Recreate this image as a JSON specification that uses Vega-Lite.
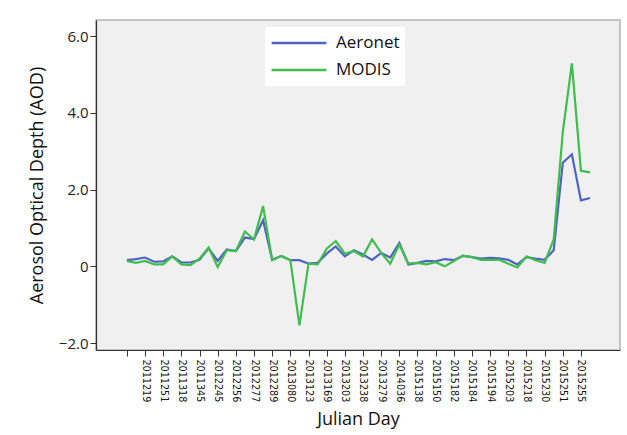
{
  "$schema": "https://vega.github.io/schema/vega-lite/v6.json",
  "width": 524,
  "height": 330,
  "autosize": {"type": "none"},
  "padding": {"left": 96, "top": 20, "right": 7, "bottom": 85},
  "background": "white",
  "config": {
    "view": {"fill": "#f0f0f0", "stroke": "#b4b4b4", "strokeWidth": 1.5},
    "axis": {"domainColor": "#333333", "tickColor": "#333333", "labelColor": "#222222", "titleColor": "#111111", "grid": false, "titleFontWeight": "normal", "domainWidth": 1.2}
  },
  "data": {
    "values": [
      {"i": 0, "Aeronet": 0.16, "MODIS": 0.14},
      {"i": 1, "Aeronet": 0.19, "MODIS": 0.09},
      {"i": 2, "Aeronet": 0.23, "MODIS": 0.14},
      {"i": 3, "Aeronet": 0.12, "MODIS": 0.05},
      {"i": 4, "Aeronet": 0.13, "MODIS": 0.05},
      {"i": 5, "Aeronet": 0.26, "MODIS": 0.26},
      {"i": 6, "Aeronet": 0.10, "MODIS": 0.05},
      {"i": 7, "Aeronet": 0.10, "MODIS": 0.03},
      {"i": 8, "Aeronet": 0.17, "MODIS": 0.20},
      {"i": 9, "Aeronet": 0.47, "MODIS": 0.49},
      {"i": 10, "Aeronet": 0.14, "MODIS": -0.02},
      {"i": 11, "Aeronet": 0.44, "MODIS": 0.42},
      {"i": 12, "Aeronet": 0.40, "MODIS": 0.40},
      {"i": 13, "Aeronet": 0.75, "MODIS": 0.91},
      {"i": 14, "Aeronet": 0.71, "MODIS": 0.70},
      {"i": 15, "Aeronet": 1.20, "MODIS": 1.57},
      {"i": 16, "Aeronet": 0.17, "MODIS": 0.16},
      {"i": 17, "Aeronet": 0.27, "MODIS": 0.27},
      {"i": 18, "Aeronet": 0.16, "MODIS": 0.16},
      {"i": 19, "Aeronet": 0.16, "MODIS": -1.54},
      {"i": 20, "Aeronet": 0.07, "MODIS": 0.07},
      {"i": 21, "Aeronet": 0.09, "MODIS": 0.05},
      {"i": 22, "Aeronet": 0.33, "MODIS": 0.46},
      {"i": 23, "Aeronet": 0.52, "MODIS": 0.66},
      {"i": 24, "Aeronet": 0.26, "MODIS": 0.33},
      {"i": 25, "Aeronet": 0.42, "MODIS": 0.40},
      {"i": 26, "Aeronet": 0.31, "MODIS": 0.26},
      {"i": 27, "Aeronet": 0.17, "MODIS": 0.70},
      {"i": 28, "Aeronet": 0.35, "MODIS": 0.35},
      {"i": 29, "Aeronet": 0.23, "MODIS": 0.07},
      {"i": 30, "Aeronet": 0.61, "MODIS": 0.57},
      {"i": 31, "Aeronet": 0.05, "MODIS": 0.07},
      {"i": 32, "Aeronet": 0.09, "MODIS": 0.09},
      {"i": 33, "Aeronet": 0.14, "MODIS": 0.05},
      {"i": 34, "Aeronet": 0.13, "MODIS": 0.11},
      {"i": 35, "Aeronet": 0.19, "MODIS": 0.00},
      {"i": 36, "Aeronet": 0.16, "MODIS": 0.14},
      {"i": 37, "Aeronet": 0.27, "MODIS": 0.28},
      {"i": 38, "Aeronet": 0.24, "MODIS": 0.24},
      {"i": 39, "Aeronet": 0.20, "MODIS": 0.17},
      {"i": 40, "Aeronet": 0.22, "MODIS": 0.17},
      {"i": 41, "Aeronet": 0.21, "MODIS": 0.17},
      {"i": 42, "Aeronet": 0.17, "MODIS": 0.07},
      {"i": 43, "Aeronet": 0.05, "MODIS": -0.03},
      {"i": 44, "Aeronet": 0.24, "MODIS": 0.26},
      {"i": 45, "Aeronet": 0.20, "MODIS": 0.16},
      {"i": 46, "Aeronet": 0.17, "MODIS": 0.09},
      {"i": 47, "Aeronet": 0.42, "MODIS": 0.70},
      {"i": 48, "Aeronet": 2.70, "MODIS": 3.50},
      {"i": 49, "Aeronet": 2.92, "MODIS": 5.29},
      {"i": 50, "Aeronet": 1.72, "MODIS": 2.49},
      {"i": 51, "Aeronet": 1.78, "MODIS": 2.45}
    ]
  },
  "transform": [{"fold": ["Aeronet", "MODIS"], "as": ["series", "aod"]}],
  "mark": {"type": "line", "strokeWidth": 2.2, "interpolate": "linear"},
  "encoding": {
    "x": {
      "field": "i",
      "type": "quantitative",
      "scale": {"domain": [-3.4, 54.3], "nice": false, "zero": false},
      "axis": {
        "title": "Julian Day",
        "titleFont": "Open Sans",
        "titleFontSize": 18,
        "titlePadding": 9,
        "values": [0, 2, 4, 6, 8, 10, 12, 14, 16, 18, 20, 22, 24, 26, 28, 30, 32, 34, 36, 38, 40, 42, 44, 46, 48, 50],
        "labelExpr": "['', '2011219', '2011251', '2011318', '2011345', '2012245', '2012256', '2012277', '2012289', '2013080', '2013123', '2013169', '2013203', '2013238', '2013279', '2014036', '2015138', '2015150', '2015182', '2015184', '2015194', '2015203', '2015218', '2015230', '2015251', '2015255'][datum.value / 2]",
        "labelAngle": 90,
        "labelAlign": "left",
        "labelBaseline": "middle",
        "labelFont": "DejaVu Sans Condensed, Liberation Sans, sans-serif",
        "labelFontSize": 10.7,
        "labelColor": "#111111",
        "labelPadding": 3,
        "labelOverlap": false,
        "labelFlush": false,
        "tickSize": 6
      }
    },
    "y": {
      "field": "aod",
      "type": "quantitative",
      "scale": {"domain": [-2.18, 6.42], "nice": false, "zero": false},
      "axis": {
        "title": "Aerosol Optical Depth (AOD)",
        "titleFont": "Open Sans",
        "titleFontSize": 18,
        "titlePadding": 12,
        "values": [-2, 0, 2, 4, 6],
        "labelExpr": "datum.value == 0 ? '0' : format(datum.value, '.1f')",
        "labelFont": "Open Sans",
        "labelFontSize": 15,
        "labelPadding": 2,
        "tickSize": 6
      }
    },
    "color": {
      "field": "series",
      "type": "nominal",
      "scale": {"domain": ["Aeronet", "MODIS"], "range": ["#4f63c2", "#3fbd4d"]},
      "legend": {
        "title": null,
        "orient": "none",
        "legendX": 169,
        "legendY": 7,
        "symbolType": "stroke",
        "symbolSize": 3000,
        "symbolStrokeWidth": 2.5,
        "clipHeight": 22,
        "labelFont": "Open Sans",
        "labelFontSize": 17,
        "labelColor": "#111111",
        "labelOffset": 8,
        "rowPadding": 5,
        "fillColor": "white",
        "padding": 5
      }
    }
  }
}
